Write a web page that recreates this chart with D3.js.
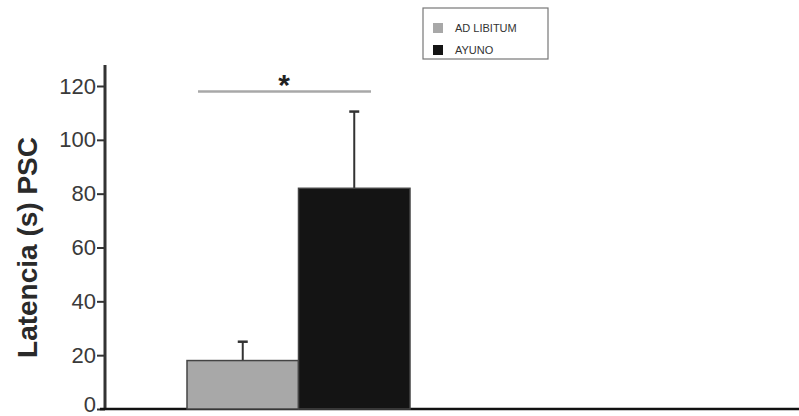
<!DOCTYPE html>
<html>
<head>
<meta charset="utf-8">
<script src="https://cdn.jsdelivr.net/npm/d3@7"></script>
<style>
  body { margin: 0; background: #fff; }
  text { font-family: "Liberation Sans", Arial, sans-serif; }
</style>
</head>
<body>
<div id="chart"></div>
<script>
// bar values
const groups = ['AD LIBITUM', 'AYUNO'];
const means = [18, 82];
const errors = [7, 28.5];
const fills = ['#a8a8a8', '#141414'];
const yTicks = [0, 20, 40, 60, 80, 100, 120];
const sigLevel = 118;

const W = 799, H = 416;
const svg = d3.select('#chart').append('svg').attr('width', W).attr('height', H);

const y = d3.scaleLinear().domain([0, 120]).range([409, 86]);
const x = d3.scaleBand().domain(groups).range([187, 410]).padding(0);

// axes
const yAxis = svg.append('g').attr('transform', 'translate(105,0)')
  .call(d3.axisLeft(y).tickValues(yTicks).tickSize(8).tickPadding(1));
yAxis.select('.domain').remove();
yAxis.selectAll('.tick line').attr('stroke', '#333').attr('stroke-width', 2);
yAxis.selectAll('.tick text').attr('font-size', 22).attr('fill', '#3a3a3a')
  .attr('font-family', '"Liberation Sans", Arial, sans-serif')
  .attr('dy', d => d === 0 ? '0.1em' : '0.32em');

svg.append('line').attr('x1', 105).attr('x2', 105).attr('y1', 65).attr('y2', 410)
  .attr('stroke', '#333').attr('stroke-width', 3);
svg.append('line').attr('x1', 100).attr('x2', W).attr('y1', 409).attr('y2', 409)
  .attr('stroke', '#111').attr('stroke-width', 2.5);

svg.append('text')
  .attr('transform', `translate(37,${(y(0) + y(120)) / 2}) rotate(-90)`)
  .attr('text-anchor', 'middle').attr('font-size', 28).attr('font-weight', 700)
  .attr('fill', '#2a2a2a').text('Latencia (s) PSC');

// error bars (drawn under bars)
const eb = svg.append('g');
groups.forEach((g, i) => {
  const cx = x(g) + x.bandwidth() / 2;
  eb.append('line').attr('x1', cx).attr('x2', cx)
    .attr('y1', y(means[i])).attr('y2', y(means[i] + errors[i]))
    .attr('stroke', '#333').attr('stroke-width', 2);
  eb.append('line').attr('x1', cx - 5).attr('x2', cx + 5)
    .attr('y1', y(means[i] + errors[i])).attr('y2', y(means[i] + errors[i]))
    .attr('stroke', '#333').attr('stroke-width', 2.5);
});

svg.append('g').selectAll('rect').data(groups).join('rect')
  .attr('x', d => x(d)).attr('width', x.bandwidth())
  .attr('y', (d, i) => y(means[i])).attr('height', (d, i) => y(0) - y(means[i]))
  .attr('fill', (d, i) => fills[i])
  .attr('stroke', '#444').attr('stroke-width', 1.5);

// significance bar
svg.append('line').attr('x1', 198).attr('x2', 371)
  .attr('y1', y(sigLevel)).attr('y2', y(sigLevel))
  .attr('stroke', '#a8a8a8').attr('stroke-width', 2.5);
svg.append('text').attr('x', 284).attr('y', y(sigLevel) + 4)
  .attr('text-anchor', 'middle').attr('font-size', 30).attr('font-weight', 700)
  .attr('fill', '#222').text('*');

// legend
const lg = svg.append('g').attr('transform', 'translate(423,8)');
lg.append('rect').attr('width', 125).attr('height', 51)
  .attr('fill', '#fff').attr('stroke', '#777').attr('stroke-width', 1.2);
groups.forEach((g, i) => {
  lg.append('rect').attr('x', 10).attr('y', 15 + i * 22).attr('width', 10).attr('height', 10)
    .attr('fill', fills[i]);
  lg.append('text').attr('x', 32).attr('y', 24 + i * 22)
    .attr('font-size', 11).attr('fill', '#333').text(g);
});
</script>
</body>
</html>
